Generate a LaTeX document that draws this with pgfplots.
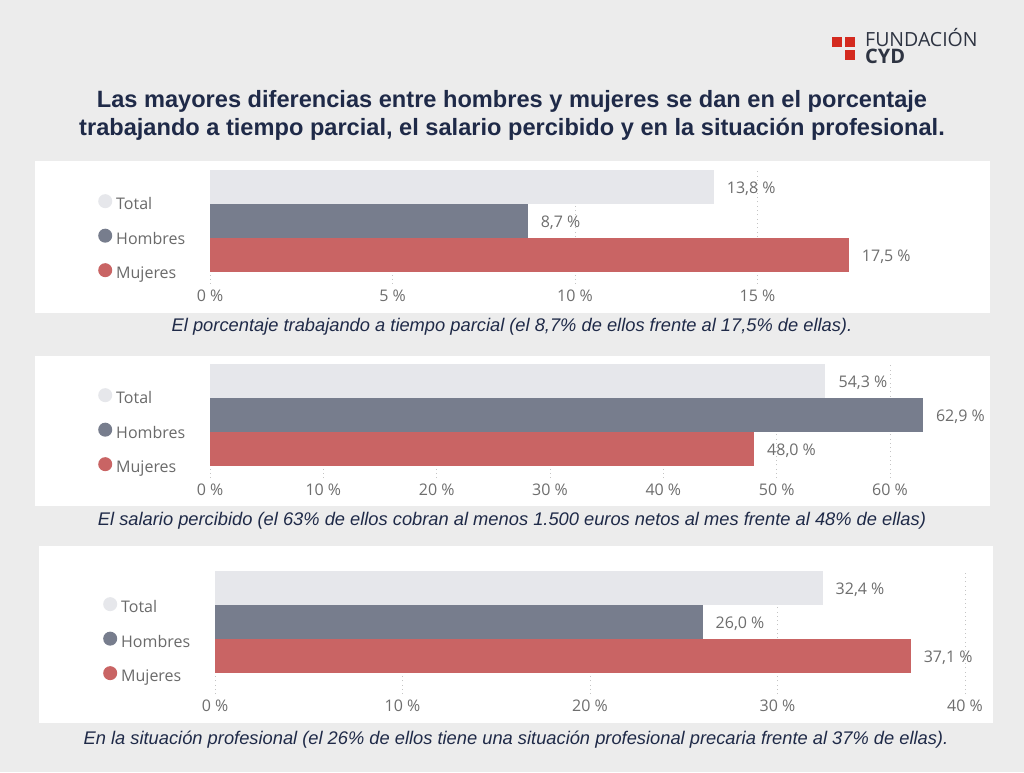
\documentclass[border=0pt]{standalone}
\usepackage{pgfplots}
\pgfplotsset{compat=1.18}
\usepackage{fontspec}
\setmainfont{Open Sans}
\newfontfamily\titlefont{Liberation Sans}
\definecolor{bgc}{HTML}{ECECEC}
\definecolor{navy}{HTML}{1F2A48}
\definecolor{totc}{HTML}{E6E7EB}
\definecolor{homc}{HTML}{777D8D}
\definecolor{mujc}{HTML}{C96464}
\definecolor{gridc}{HTML}{C4C4C4}
\definecolor{labc}{HTML}{6E6E6E}
\definecolor{legc}{HTML}{6A6A6A}
\definecolor{logored}{HTML}{D42A1F}
\definecolor{logotext}{HTML}{2E3442}
\pgfplotsset{
 panel/.style={
  scale only axis, clip=false,
  axis line style={draw=none},
  major tick length=0pt,
  ytick=\empty,
  xmajorgrids,
  grid style={gridc, line width=0.8pt, dash pattern=on 0.8pt off 3.5pt},
  xticklabel style={font=\fontsize{16}{18}\selectfont, text=labc, anchor=center, yshift=-12pt},
  legend style={draw=none, fill=none, inner sep=0pt, row sep=15pt, column sep=4pt,
    font=\fontsize{16}{18}\selectfont, text=legc, anchor=north west,
    nodes={inner sep=0pt, text height=12pt, text depth=4pt}},
  legend cell align=left,
  point meta=x,
  nodes near coords={\pgfmathprintnumber[fixed,fixed zerofill,precision=1,use comma]{\pgfplotspointmeta}~\%},
  every node near coord/.style={anchor=west, xshift=13pt, yshift=-2pt, inner sep=0pt, font=\fontsize{16}{18}\selectfont, text=labc},
  /pgf/number format/assume math mode=true,
 },
 tot/.style={xbar, bar width=34pt, bar shift=0pt, fill=totc, draw=none,
   legend image code/.code={\fill[totc] (7pt,4.5pt) circle (7pt);}},
 hom/.style={xbar, bar width=34pt, bar shift=0pt, fill=homc, draw=none,
   legend image code/.code={\fill[homc] (7pt,4.5pt) circle (7pt);}},
 muj/.style={xbar, bar width=34pt, bar shift=0pt, fill=mujc, draw=none,
   legend image code/.code={\fill[mujc] (7pt,4.5pt) circle (7pt);}},
}
\begin{document}
\begin{tikzpicture}[x=1pt,y=1pt]
\path[use as bounding box, fill=bgc] (0,0) rectangle (1024,772);
% logo
\fill[logored] (832,735) rectangle (842,725);
\fill[logored] (845,735) rectangle (855,725);
\fill[logored] (845,722) rectangle (855,712);
\node[anchor=base west, inner sep=0pt, font=\fontsize{19.5}{20}\selectfont, text=logotext] at (865,725.5) {FUNDACIÓN};
\node[anchor=base west, inner sep=0pt, font=\bfseries\fontsize{20}{20}\selectfont, text=logotext] at (865,708.5) {CYD};
% title
\node[align=center, font=\titlefont\bfseries\fontsize{23.6}{27.5}\selectfont, text=navy] at (512,656.5)
 {Las mayores diferencias entre hombres y mujeres se dan en el porcentaje\\trabajando a tiempo parcial, el salario percibido y en la situación profesional.};
% white panels
\fill[white] (35,611) rectangle (990,459);
\fill[white] (35,416) rectangle (990,266);
\fill[white] (39,226) rectangle (993,49);
% captions
\node[font=\titlefont\itshape\fontsize{18.3}{20}\selectfont, text=navy] at (512,445)
 {El porcentaje trabajando a tiempo parcial (el 8,7\% de ellos frente al 17,5\% de ellas).};
\node[font=\titlefont\itshape\fontsize{18.3}{20}\selectfont, text=navy] at (512,251)
 {El salario percibido (el 63\% de ellos cobran al menos 1.500 euros netos al mes frente al 48\% de ellas)};
\node[font=\titlefont\itshape\fontsize{18.3}{20}\selectfont, text=navy] at (516,32)
 {En la situación profesional (el 26\% de ellos tiene una situación profesional precaria frente al 37\% de ellas).};
% panel 1
\begin{axis}[panel, at={(210pt,488pt)}, anchor=south west,
  width=730pt, height=115.7pt, xmin=0, xmax=20, ymin=-0.853, ymax=2.55,
  xtick={0,5,10,15}, xticklabels={0 \%,5 \%,10 \%,15 \%},
  legend style={at={(axis description cs:-0.1534,0.778)}}]
\addplot[tot] coordinates {(13.8,2)};
\addplot[hom] coordinates {(8.7,1)};
\addplot[muj] coordinates {(17.5,0)};
\legend{Total,Hombres,Mujeres}
\end{axis}
% panel 2
\begin{axis}[panel, at={(210pt,294pt)}, anchor=south west,
  width=748pt, height=115.7pt, xmin=0, xmax=66, ymin=-0.853, ymax=2.55,
  xtick={0,10,20,30,40,50,60}, xticklabels={0 \%,10 \%,20 \%,30 \%,40 \%,50 \%,60 \%},
  legend style={at={(axis description cs:-0.1497,0.778)}}]
\addplot[tot] coordinates {(54.3,2)};
\addplot[hom] coordinates {(62.9,1)};
\addplot[muj] coordinates {(48.0,0)};
\legend{Total,Hombres,Mujeres}
\end{axis}
% panel 3
\begin{axis}[panel, at={(215pt,78pt)}, anchor=south west,
  width=768.75pt, height=124.1pt, xmin=0, xmax=41, ymin=-1.12, ymax=2.53,
  xtick={0,10,20,30,40}, xticklabels={0 \%,10 \%,20 \%,30 \%,40 \%},
  legend style={at={(axis description cs:-0.1457,0.782)}}]
\addplot[tot] coordinates {(32.4,2)};
\addplot[hom] coordinates {(26.0,1)};
\addplot[muj] coordinates {(37.1,0)};
\legend{Total,Hombres,Mujeres}
\end{axis}
\end{tikzpicture}
\end{document}
